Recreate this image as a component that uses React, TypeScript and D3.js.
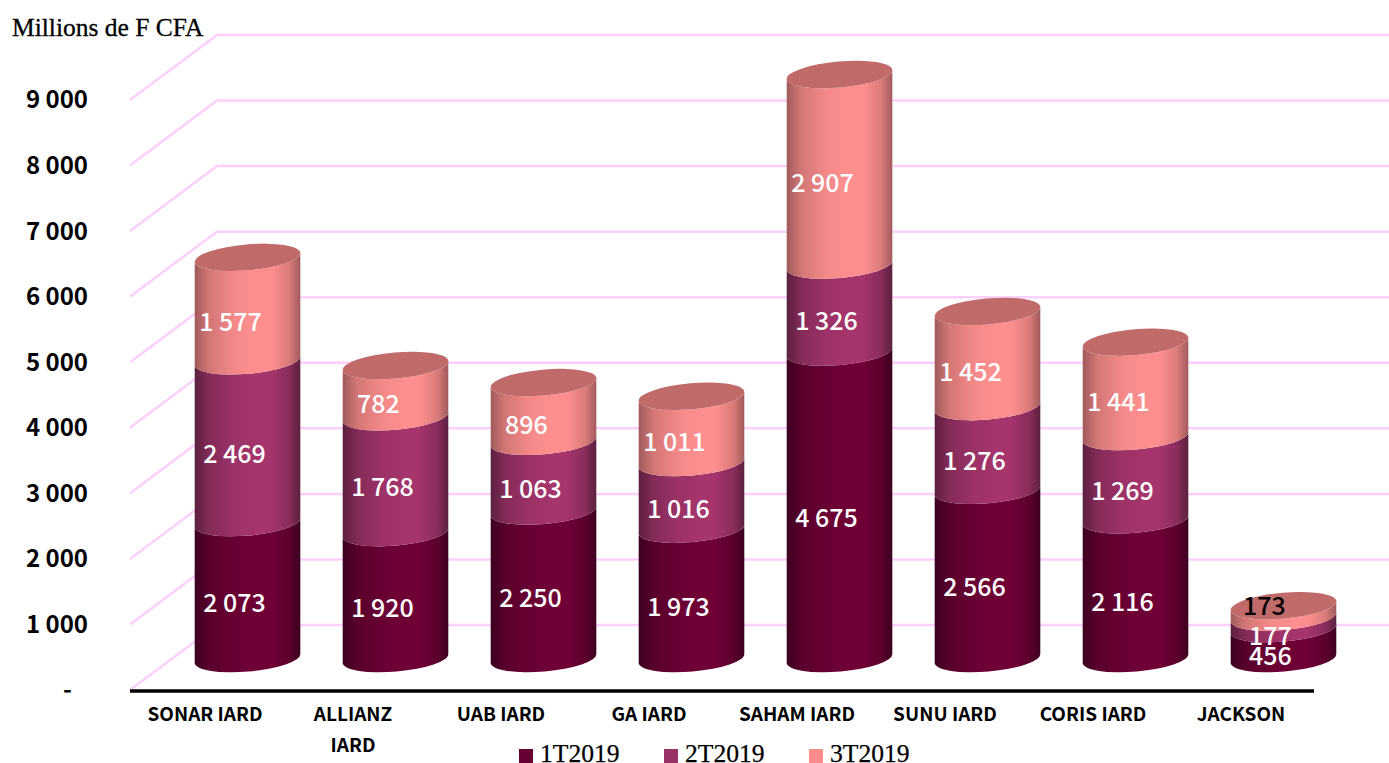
import React, { useEffect, useRef } from 'react'
import * as d3 from 'd3'

const companies = ['SONAR IARD', 'ALLIANZ IARD', 'UAB IARD', 'GA IARD', 'SAHAM IARD', 'SUNU IARD', 'CORIS IARD', 'JACKSON']
const quarters = ['1T2019', '2T2019', '3T2019']
const t1 = [2073, 1920, 2250, 1973, 4675, 2566, 2116, 456]
const t2 = [2469, 1768, 1063, 1016, 1326, 1276, 1269, 177]
const t3 = [1577, 782, 896, 1011, 2907, 1452, 1441, 173]
const yTicks = [0, 1000, 2000, 3000, 4000, 5000, 6000, 7000, 8000, 9000]

const WIDTH = 1389
const HEIGHT = 763
const SANS = '"Noto Sans CJK JP", "Noto Sans", sans-serif'
const SERIF = '"Liberation Serif", serif'

// edge / middle of the cylinder gradient and flat legend colour, per series
const shades = [
    { edge: '#3d0020', mid: '#6f0036', flat: '#660033' },
    { edge: '#5c1f3f', mid: '#a5356c', flat: '#993366' },
    { edge: '#a05a5a', mid: '#ff8f8f', flat: '#ff8b8b' },
]
const capColor = '#c06a6a'

const fmt = d3.formatLocale({ decimal: ',', thousands: ' ', grouping: [3], currency: ['', ''] }).format(',d')

export default function App() {
    const svgRef = useRef<SVGSVGElement>(null)

    useEffect(() => {
        const svg = d3.select(svgRef.current)
        svg.selectAll('*').remove()

        const x = d3.scaleBand().domain(companies).range([130, 1314])
        const y = d3.scaleLinear().domain([0, 9000]).range([690, 100])

        // the 3D box: the back wall sits up and to the right of the axis plane
        const depthX = 87
        const depthY = 65
        const rx = 53
        const ry = 13
        const tilt = -5
        const sin = Math.sin((-tilt * Math.PI) / 180)
        const cos = Math.cos((-tilt * Math.PI) / 180)

        const defs = svg.append('defs')
        shades.forEach((s, i) => {
            const mix = d3.interpolateRgb(s.edge, s.mid)
            const g = defs.append('linearGradient').attr('id', `cyl${i}`)
            g.append('stop').attr('offset', '0%').attr('stop-color', s.edge)
            g.append('stop').attr('offset', '14%').attr('stop-color', mix(0.55))
            g.append('stop').attr('offset', '38%').attr('stop-color', mix(0.88))
            g.append('stop').attr('offset', '58%').attr('stop-color', s.mid)
            g.append('stop').attr('offset', '72%').attr('stop-color', s.mid)
            g.append('stop').attr('offset', '90%').attr('stop-color', mix(0.6))
            g.append('stop').attr('offset', '100%').attr('stop-color', s.edge)
        })

        const grid = svg.append('g')
        yTicks.forEach(t => {
            grid.append('path')
                .attr('d', `M 130 ${y(t)} L ${130 + depthX} ${y(t) - depthY} L ${WIDTH} ${y(t) - depthY}`)
                .attr('fill', 'none')
                .attr('stroke', '#fcd0fc')
                .attr('stroke-width', 2.5)
        })

        // y axis
        const yAxis = svg.append('g')
            .attr('transform', 'translate(88,0)')
            .call(d3.axisLeft(y).tickValues(yTicks).tickSize(0).tickPadding(0).tickFormat(d => (d === 0 ? '-' : fmt(d as number))))
        yAxis.select('.domain').remove()
        yAxis.selectAll('text')
            .attr('dy', '0.33em')
            .attr('dx', d => (d === 0 ? -16 : 0))
            .attr('fill', '#000')
            .style('font-family', SANS)
            .style('font-size', '24px')
            .style('font-weight', 700)

        svg.append('line')
            .attr('x1', 130).attr('x2', 1314)
            .attr('y1', 691).attr('y2', 691)
            .attr('stroke', '#000')
            .attr('stroke-width', 3.5)

        // stacked cylinders
        const series = [t1, t2, t3]
        const stack = d3.stack<number>()
            .keys(['0', '1', '2'])
            .value((i, k) => series[+k][i])(companies.map((_, i) => i))

        const baseY = d3.scaleLinear().domain([0, 9000]).range([691 - depthY / 2, 101 - depthY / 2])

        companies.forEach((c, i) => {
            const cx = (x(c) as number) + x.bandwidth() / 2 + depthX / 2
            const dx = rx * cos
            const dy = rx * sin
            const g = svg.append('g')
            stack.forEach((layer, s) => {
                const y0 = baseY(layer[i][0])
                const y1 = baseY(layer[i][1])
                g.append('path')
                    .attr('d', `M ${cx - dx} ${y1 + dy} L ${cx - dx} ${y0 + dy} A ${rx} ${ry} ${tilt} 0 0 ${cx + dx} ${y0 - dy} L ${cx + dx} ${y1 - dy} A ${rx} ${ry} ${tilt} 0 1 ${cx - dx} ${y1 + dy} Z`)
                    .attr('fill', `url(#cyl${s})`)
            })
            const top = baseY(stack[2][i][1])
            g.append('ellipse')
                .attr('rx', rx)
                .attr('ry', ry)
                .attr('transform', `translate(${cx},${top}) rotate(${tilt})`)
                .attr('fill', capColor)

            stack.forEach((layer, s) => {
                const mid = baseY((layer[i][0] + layer[i][1]) / 2)
                const small = c === 'JACKSON' && s === 2
                svg.append('text')
                    .attr('x', cx + (small ? -19 : s === 2 ? -17 : -13))
                    .attr('y', small ? mid - 5 : mid + 13)
                    .attr('dy', '0.35em')
                    .attr('text-anchor', 'middle')
                    .attr('fill', small ? '#000' : '#fff')
                    .style('font-family', SANS)
                    .style('font-size', '25px')
                    .style('font-weight', 500)
                    .text(fmt(series[s][i]))
            })
        })

        // category labels, ALLIANZ wraps on two lines
        companies.forEach(c => {
            const lines = c === 'ALLIANZ IARD' ? c.split(' ') : [c]
            const label = svg.append('text')
                .attr('text-anchor', 'middle')
                .attr('fill', '#000')
                .style('font-family', SANS)
                .style('font-size', '19px')
                .style('font-weight', 700)
            lines.forEach((l, k) => {
                label.append('tspan')
                    .attr('x', (x(c) as number) + x.bandwidth() / 2 + 1)
                    .attr('y', 721 + k * 31)
                    .text(l)
            })
        })

        svg.append('text')
            .attr('x', 12).attr('y', 36)
            .attr('fill', '#000')
            .attr('stroke', '#000')
            .attr('stroke-width', 0.3)
            .style('font-family', SERIF)
            .style('font-size', '25.5px')
            .text('Millions de F CFA')

        // legend
        const legendX = d3.scalePoint().domain(quarters).range([519, 809])
        quarters.forEach((q, i) => {
            const lx = legendX(q) as number
            svg.append('rect')
                .attr('x', lx).attr('y', 749)
                .attr('width', 14).attr('height', 14)
                .attr('fill', shades[i].flat)
            svg.append('text')
                .attr('x', lx + 21).attr('y', 762)
                .attr('fill', '#000')
                .attr('stroke', '#000')
                .attr('stroke-width', 0.25)
                .style('font-family', SERIF)
                .style('font-size', '25.6px')
                .text(q)
        })
    }, [])

    return (
        <svg
            ref={svgRef}
            width={WIDTH}
            height={HEIGHT}
            style={{ position: 'fixed', left: 0, top: 0, background: '#fff' }}
        />
    )
}
